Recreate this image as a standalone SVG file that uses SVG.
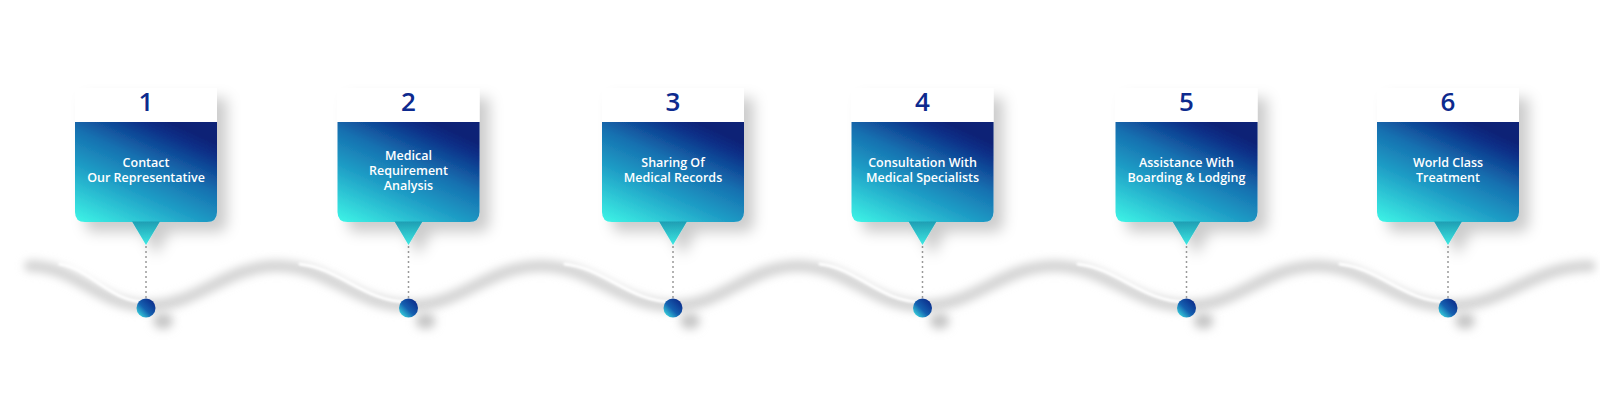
<svg xmlns="http://www.w3.org/2000/svg" width="1600" height="400" viewBox="0 0 1600 400">
  <defs>
    <linearGradient id="gBody" gradientUnits="userSpaceOnUse" x1="-71" y1="222" x2="-17" y2="103">
      <stop offset="0" stop-color="#3ef6e7"/>
      <stop offset="0.4" stop-color="#1f9ec6"/>
      <stop offset="0.65" stop-color="#1670b0"/>
      <stop offset="0.9" stop-color="#0c3088"/>
      <stop offset="1" stop-color="#0a2276"/>
    </linearGradient>
    <linearGradient id="gTri" x1="0" y1="0" x2="0" y2="1">
      <stop offset="0" stop-color="#1e9db3"/>
      <stop offset="1" stop-color="#3de8e3"/>
    </linearGradient>
    <linearGradient id="gDot" x1="0" y1="1" x2="1" y2="0">
      <stop offset="0" stop-color="#42f6ea"/>
      <stop offset="0.45" stop-color="#1460b0"/>
      <stop offset="1" stop-color="#0a1e80"/>
    </linearGradient>
    <filter id="cardShadow" x="-30%" y="-30%" width="160%" height="160%">
      <feDropShadow dx="10" dy="10" stdDeviation="7" flood-color="#000" flood-opacity="0.2"/>
    </filter>
    <filter id="blur4" x="-20%" y="-50%" width="140%" height="200%">
      <feGaussianBlur stdDeviation="4"/>
    </filter>
    <filter id="blur5" x="-100%" y="-100%" width="300%" height="300%">
      <feGaussianBlur stdDeviation="5"/>
    </filter>
    <filter id="blur2" x="-20%" y="-50%" width="140%" height="200%">
      <feGaussianBlur stdDeviation="1"/>
    </filter>
  </defs>
  <style>
    .header { fill: #ffffff; }
    .body { fill: url(#gBody); }
    .tri { fill: url(#gTri); }
    .num { font-family: "Open Sans", "Noto Sans", sans-serif; font-weight: 600; font-size: 26px; fill: #0d2a8e; text-anchor: middle; }
    .lbl { font-family: "Open Sans", "Noto Sans", sans-serif; font-weight: 600; font-size: 12.5px; fill: #ffffff; text-anchor: middle; }
    .stem { stroke: #9a9a9a; stroke-width: 1.5; stroke-dasharray: 2 3; fill: none; }
    .dot { fill: url(#gDot); }
    .dotShadow { fill: #c4c4c4; filter: url(#blur5); }
    .wave { fill: none; stroke: #d4d4d4; stroke-width: 12; stroke-linecap: round; filter: url(#blur4); }
    .waveHi { fill: none; stroke: #ffffff; stroke-width: 3; stroke-linecap: round; filter: url(#blur2); }
  </style>

  <g id="wave">
    <path class="wave" d="M30,266 C76,266 100,306 146,306 C198,306 225,266 277,266 C330,266 355.5,306 408.5,306 C461.5,306 488,266 541,266 C594,266 620,306 673,306 C723,306 748,266 798,266 C848,266 872.5,306 922.5,306 C975.5,306 1001.5,266 1054.5,266 C1107.5,266 1133.5,306 1186.5,306 C1238.5,306 1265,266 1317,266 C1369,266 1396,306 1448,306 C1505,306 1533,266 1590,266"/>
    <path class="waveHi" transform="translate(0,-4)" d="M60,268 C90,272 110,306 146,306 M300,268 C340,272 365,306 408.5,306 M565,268 C605,272 630,306 673,306 M820,268 C858,272 880,306 922.5,306 M1078,268 C1118,272 1143,306 1186.5,306 M1340,268 C1380,272 1405,306 1448,306"/>
  </g>

  <g id="connectors">
    <line class="stem" x1="146" y1="246" x2="146" y2="299"/>
    <line class="stem" x1="408.5" y1="246" x2="408.5" y2="299"/>
    <line class="stem" x1="673" y1="246" x2="673" y2="299"/>
    <line class="stem" x1="922.5" y1="246" x2="922.5" y2="299"/>
    <line class="stem" x1="1186.5" y1="246" x2="1186.5" y2="299"/>
    <line class="stem" x1="1448" y1="246" x2="1448" y2="299"/>
  </g>

  <g id="node-1" transform="translate(146,0)">
    <g filter="url(#cardShadow)">
      <rect class="header" x="-71" y="88" width="142" height="34"/>
      <path class="body" d="M-71,122 H71 V212 Q71,222 61,222 H-61 Q-71,222 -71,212 Z"/>
      <path class="tri" d="M-14,221.5 H14 L0,245 Z"/>
    </g>
    <text class="num" x="0" y="111">1</text>
    <text class="lbl" x="0" y="167">Contact</text>
    <text class="lbl" x="0" y="182">Our Representative</text>
    <ellipse class="dotShadow" cx="17" cy="321" rx="10" ry="8"/>
    <circle class="dot" cx="0" cy="308" r="9.5"/>
  </g>

  <g id="node-2" transform="translate(408.5,0)">
    <g filter="url(#cardShadow)">
      <rect class="header" x="-71" y="88" width="142" height="34"/>
      <path class="body" d="M-71,122 H71 V212 Q71,222 61,222 H-61 Q-71,222 -71,212 Z"/>
      <path class="tri" d="M-14,221.5 H14 L0,245 Z"/>
    </g>
    <text class="num" x="0" y="111">2</text>
    <text class="lbl" x="0" y="160">Medical</text>
    <text class="lbl" x="0" y="175">Requirement</text>
    <text class="lbl" x="0" y="190">Analysis</text>
    <ellipse class="dotShadow" cx="17" cy="321" rx="10" ry="8"/>
    <circle class="dot" cx="0" cy="308" r="9.5"/>
  </g>

  <g id="node-3" transform="translate(673,0)">
    <g filter="url(#cardShadow)">
      <rect class="header" x="-71" y="88" width="142" height="34"/>
      <path class="body" d="M-71,122 H71 V212 Q71,222 61,222 H-61 Q-71,222 -71,212 Z"/>
      <path class="tri" d="M-14,221.5 H14 L0,245 Z"/>
    </g>
    <text class="num" x="0" y="111">3</text>
    <text class="lbl" x="0" y="167">Sharing Of</text>
    <text class="lbl" x="0" y="182">Medical Records</text>
    <ellipse class="dotShadow" cx="17" cy="321" rx="10" ry="8"/>
    <circle class="dot" cx="0" cy="308" r="9.5"/>
  </g>

  <g id="node-4" transform="translate(922.5,0)">
    <g filter="url(#cardShadow)">
      <rect class="header" x="-71" y="88" width="142" height="34"/>
      <path class="body" d="M-71,122 H71 V212 Q71,222 61,222 H-61 Q-71,222 -71,212 Z"/>
      <path class="tri" d="M-14,221.5 H14 L0,245 Z"/>
    </g>
    <text class="num" x="0" y="111">4</text>
    <text class="lbl" x="0" y="167">Consultation With</text>
    <text class="lbl" x="0" y="182">Medical Specialists</text>
    <ellipse class="dotShadow" cx="17" cy="321" rx="10" ry="8"/>
    <circle class="dot" cx="0" cy="308" r="9.5"/>
  </g>

  <g id="node-5" transform="translate(1186.5,0)">
    <g filter="url(#cardShadow)">
      <rect class="header" x="-71" y="88" width="142" height="34"/>
      <path class="body" d="M-71,122 H71 V212 Q71,222 61,222 H-61 Q-71,222 -71,212 Z"/>
      <path class="tri" d="M-14,221.5 H14 L0,245 Z"/>
    </g>
    <text class="num" x="0" y="111">5</text>
    <text class="lbl" x="0" y="167">Assistance With</text>
    <text class="lbl" x="0" y="182">Boarding &amp; Lodging</text>
    <ellipse class="dotShadow" cx="17" cy="321" rx="10" ry="8"/>
    <circle class="dot" cx="0" cy="308" r="9.5"/>
  </g>

  <g id="node-6" transform="translate(1448,0)">
    <g filter="url(#cardShadow)">
      <rect class="header" x="-71" y="88" width="142" height="34"/>
      <path class="body" d="M-71,122 H71 V212 Q71,222 61,222 H-61 Q-71,222 -71,212 Z"/>
      <path class="tri" d="M-14,221.5 H14 L0,245 Z"/>
    </g>
    <text class="num" x="0" y="111">6</text>
    <text class="lbl" x="0" y="167">World Class</text>
    <text class="lbl" x="0" y="182">Treatment</text>
    <ellipse class="dotShadow" cx="17" cy="321" rx="10" ry="8"/>
    <circle class="dot" cx="0" cy="308" r="9.5"/>
  </g>
</svg>
